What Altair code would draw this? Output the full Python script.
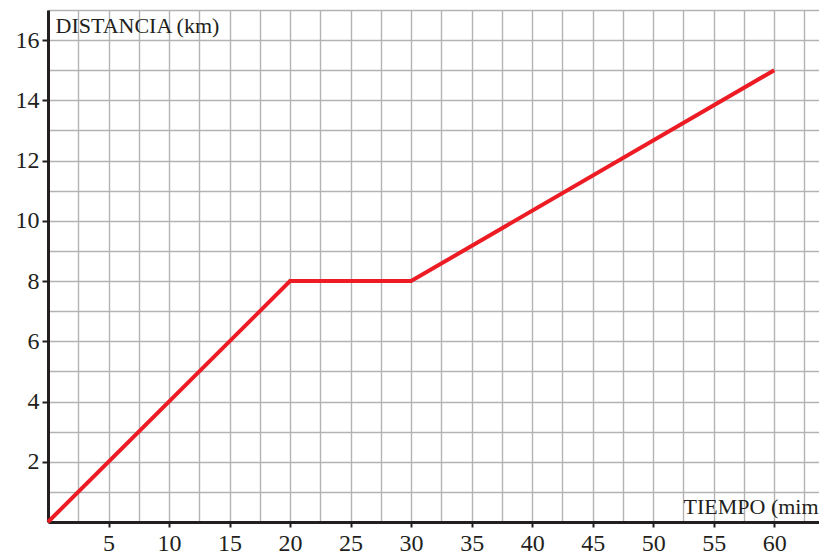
import altair as alt
import pandas as pd

tiempo = [0, 20, 30, 60]
distancia = [0, 8, 8, 15]
x_grid = [2.5 * i for i in range(0, 26)]
y_grid = list(range(0, 18))

df = pd.DataFrame({"t": tiempo, "d": distancia})

FONT = "Liberation Serif"
TXT = "#231f20"

xs = alt.Scale(domain=[0, 63.7], nice=False, zero=False)
ys = alt.Scale(domain=[0, 17], nice=False, zero=False)

x_show = "datum.value % 5 === 0 && datum.value > 0 && datum.value <= 60"
y_show = "datum.value % 2 === 0 && datum.value > 0 && datum.value <= 16"

line = alt.Chart(df).mark_line(color="#ed1c24", strokeWidth=4).encode(
    x=alt.X("t:Q", scale=xs, axis=alt.Axis(
        values=x_grid, orient="bottom",
        grid=True, gridColor="#b3b3b3", gridWidth=1.4, gridOpacity=1,
        domainColor="#231f20", domainWidth=3,
        tickColor="#231f20", tickWidth=2, tickSize=5, labelPadding=4,
        tickOpacity=alt.condition(x_show, alt.value(1), alt.value(0)),
        labelExpr=f"({x_show}) ? datum.label : ''",
        labelFont=FONT, labelFontSize=24, labelColor=TXT, labelOverlap=False,
        title="TIEMPO (mim", titleFont=FONT, titleFontSize=22, titleFontWeight="normal",
        titleColor=TXT, titleAnchor="start", titleAlign="left", titleBaseline="alphabetic",
        titleX=635, titleY=-9)),
    y=alt.Y("d:Q", scale=ys, axis=alt.Axis(
        values=y_grid, orient="left",
        grid=True, gridColor="#b3b3b3", gridWidth=1.4, gridOpacity=1,
        domainColor="#231f20", domainWidth=3,
        tickColor="#231f20", tickWidth=2, tickSize=6, labelPadding=3,
        tickOpacity=alt.condition(y_show, alt.value(1), alt.value(0)),
        labelExpr=f"({y_show}) ? datum.label : ''",
        labelFont=FONT, labelFontSize=24, labelColor=TXT, labelOverlap=False,
        title="DISTANCIA (km)", titleFont=FONT, titleFontSize=22, titleFontWeight="normal",
        titleColor=TXT, titleAngle=0, titleAnchor="start", titleAlign="left",
        titleBaseline="alphabetic", titleX=7, titleY=22)),
)

chart = line.properties(
    width=771, height=512,
    autosize=alt.AutoSizeParams(type="none"),
    padding={"left": 40, "top": 2, "right": 0, "bottom": 33},
).configure_view(stroke=None).configure(background="white")

chart.save("out.html", embed_options={"renderer": "svg", "actions": False})
